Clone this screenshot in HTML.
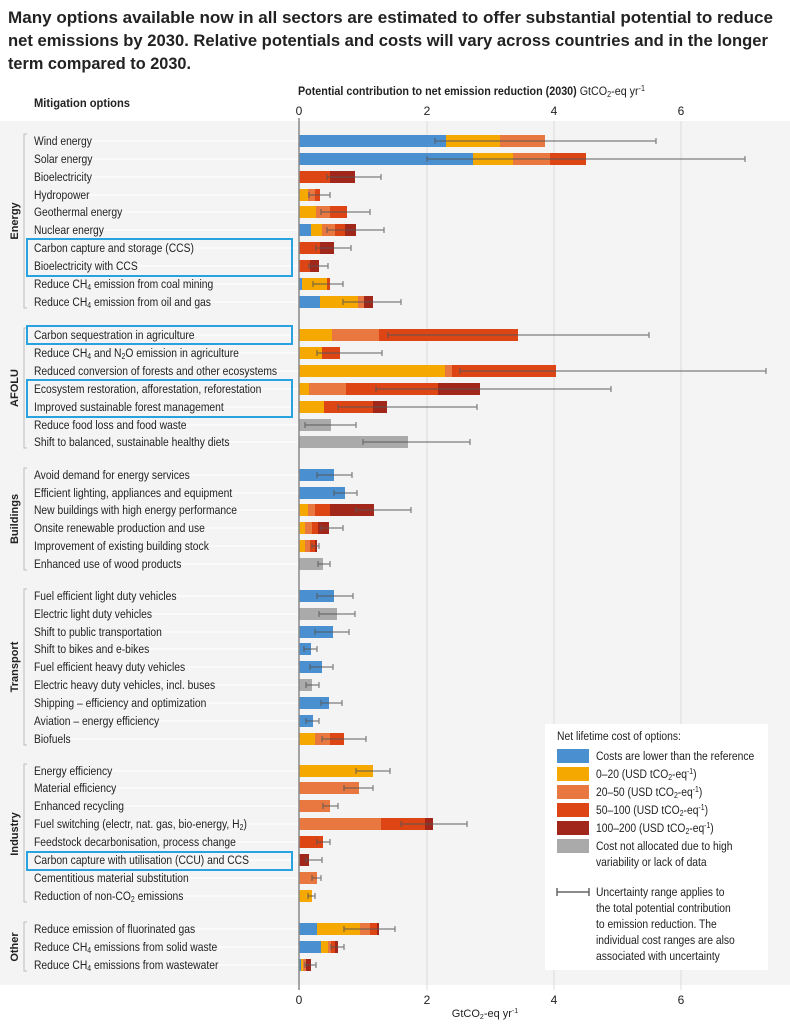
<!DOCTYPE html>
<html><head><meta charset="utf-8"><style>
body{margin:0;background:#fff}
svg{display:block}
.t{font-family:"Liberation Sans",sans-serif;font-size:12px;fill:#222}
.b{font-family:"Liberation Sans",sans-serif;font-weight:bold}
.e{fill:none;stroke:#555;stroke-opacity:0.75;stroke-width:1.2}
.wl{stroke:#fff;stroke-width:1}
</style></head><body>
<svg width="790" height="1024" viewBox="0 0 790 1024" xmlns="http://www.w3.org/2000/svg">
<g class="b" font-size="17" fill="#222">
<text x="8" y="23" textLength="765" lengthAdjust="spacingAndGlyphs">Many options available now in all sectors are estimated to offer substantial potential to reduce</text>
<text x="8" y="46" textLength="760" lengthAdjust="spacingAndGlyphs">net emissions by 2030. Relative potentials and costs will vary across countries and in the longer</text>
<text x="8" y="69" textLength="183" lengthAdjust="spacingAndGlyphs">term compared to 2030.</text>
</g>
<rect x="0" y="121" width="790" height="864" fill="#f4f4f4"/>
<text x="34" y="107" class="t" style="font-weight:bold" font-size="12" textLength="96" lengthAdjust="spacingAndGlyphs">Mitigation options</text>
<text x="298" y="95" class="t" font-size="12" textLength="347" lengthAdjust="spacingAndGlyphs"><tspan font-weight="bold">Potential contribution to net emission reduction (2030) </tspan>GtCO<tspan font-size="8" dy="2">2</tspan><tspan dy="-2">-eq yr</tspan><tspan font-size="8" dy="-4">-1</tspan></text>
<g class="t" text-anchor="middle" font-size="12">
<text x="299" y="115">0</text><text x="427" y="115">2</text><text x="554" y="115">4</text><text x="681" y="115">6</text>
<text x="299" y="1004">0</text><text x="427" y="1004">2</text><text x="554" y="1004">4</text><text x="681" y="1004">6</text>
<text x="485" y="1017" font-size="11">GtCO<tspan font-size="7" dy="2">2</tspan><tspan dy="-2">-eq yr</tspan><tspan font-size="7" dy="-4">-1</tspan></text>
</g>
<g stroke="#dcdcdc" stroke-width="1">
<line x1="427" y1="121" x2="427" y2="990"/><line x1="554" y1="121" x2="554" y2="990"/><line x1="681" y1="121" x2="681" y2="990"/>
</g>
<g class="wl">
<line x1="34" y1="141" x2="299" y2="141"/><line x1="34" y1="159" x2="299" y2="159"/><line x1="34" y1="177" x2="299" y2="177"/><line x1="34" y1="195" x2="299" y2="195"/><line x1="34" y1="212" x2="299" y2="212"/><line x1="34" y1="230" x2="299" y2="230"/><line x1="34" y1="248" x2="299" y2="248"/><line x1="34" y1="266" x2="299" y2="266"/><line x1="34" y1="284" x2="299" y2="284"/><line x1="34" y1="302" x2="299" y2="302"/>
<line x1="34" y1="335" x2="299" y2="335"/><line x1="34" y1="353" x2="299" y2="353"/><line x1="34" y1="371" x2="299" y2="371"/><line x1="34" y1="389" x2="299" y2="389"/><line x1="34" y1="407" x2="299" y2="407"/><line x1="34" y1="425" x2="299" y2="425"/><line x1="34" y1="442" x2="299" y2="442"/>
<line x1="34" y1="475" x2="299" y2="475"/><line x1="34" y1="493" x2="299" y2="493"/><line x1="34" y1="510" x2="299" y2="510"/><line x1="34" y1="528" x2="299" y2="528"/><line x1="34" y1="546" x2="299" y2="546"/><line x1="34" y1="564" x2="299" y2="564"/>
<line x1="34" y1="596" x2="299" y2="596"/><line x1="34" y1="614" x2="299" y2="614"/><line x1="34" y1="632" x2="299" y2="632"/><line x1="34" y1="649" x2="299" y2="649"/><line x1="34" y1="667" x2="299" y2="667"/><line x1="34" y1="685" x2="299" y2="685"/><line x1="34" y1="703" x2="299" y2="703"/><line x1="34" y1="721" x2="299" y2="721"/><line x1="34" y1="739" x2="299" y2="739"/>
<line x1="34" y1="771" x2="299" y2="771"/><line x1="34" y1="788" x2="299" y2="788"/><line x1="34" y1="806" x2="299" y2="806"/><line x1="34" y1="824" x2="299" y2="824"/><line x1="34" y1="842" x2="299" y2="842"/><line x1="34" y1="860" x2="299" y2="860"/><line x1="34" y1="878" x2="299" y2="878"/><line x1="34" y1="896" x2="299" y2="896"/>
<line x1="34" y1="929" x2="299" y2="929"/><line x1="34" y1="947" x2="299" y2="947"/><line x1="34" y1="965" x2="299" y2="965"/>
</g>

<!-- Bars -->
<g>
<!-- Energy -->
<rect x="299" y="135" width="147" height="12" fill="#4a8fd0"/><rect x="446" y="135" width="54" height="12" fill="#f5a800"/><rect x="500" y="135" width="45" height="12" fill="#e87840"/>
<rect x="299" y="153" width="174" height="12" fill="#4a8fd0"/><rect x="473" y="153" width="40" height="12" fill="#f5a800"/><rect x="513" y="153" width="37" height="12" fill="#e87840"/><rect x="550" y="153" width="36" height="12" fill="#dd4515"/>
<rect x="299" y="171" width="31" height="12" fill="#dd4515"/><rect x="330" y="171" width="25" height="12" fill="#a0271a"/>
<rect x="299" y="189" width="9" height="12" fill="#f5a800"/><rect x="308" y="189" width="7" height="12" fill="#e87840"/><rect x="315" y="189" width="5" height="12" fill="#dd4515"/>
<rect x="299" y="206" width="17" height="12" fill="#f5a800"/><rect x="316" y="206" width="14" height="12" fill="#e87840"/><rect x="330" y="206" width="17" height="12" fill="#dd4515"/>
<rect x="299" y="224" width="12" height="12" fill="#4a8fd0"/><rect x="311" y="224" width="11" height="12" fill="#f5a800"/><rect x="322" y="224" width="13" height="12" fill="#e87840"/><rect x="335" y="224" width="10" height="12" fill="#dd4515"/><rect x="345" y="224" width="11" height="12" fill="#a0271a"/>
<rect x="299" y="242" width="21" height="12" fill="#dd4515"/><rect x="320" y="242" width="14" height="12" fill="#a0271a"/>
<rect x="299" y="260" width="11" height="12" fill="#dd4515"/><rect x="310" y="260" width="9" height="12" fill="#a0271a"/>
<rect x="299" y="278" width="3" height="12" fill="#4a8fd0"/><rect x="302" y="278" width="25" height="12" fill="#f5a800"/><rect x="327" y="278" width="3" height="12" fill="#dd4515"/>
<rect x="299" y="296" width="21" height="12" fill="#4a8fd0"/><rect x="320" y="296" width="38" height="12" fill="#f5a800"/><rect x="358" y="296" width="6" height="12" fill="#e87840"/><rect x="364" y="296" width="9" height="12" fill="#a0271a"/>
<!-- AFOLU -->
<rect x="299" y="329" width="33" height="12" fill="#f5a800"/><rect x="332" y="329" width="47" height="12" fill="#e87840"/><rect x="379" y="329" width="139" height="12" fill="#dd4515"/>
<rect x="299" y="347" width="23" height="12" fill="#f5a800"/><rect x="322" y="347" width="18" height="12" fill="#dd4515"/>
<rect x="299" y="365" width="146" height="12" fill="#f5a800"/><rect x="445" y="365" width="7" height="12" fill="#e87840"/><rect x="452" y="365" width="104" height="12" fill="#dd4515"/>
<rect x="299" y="383" width="10" height="12" fill="#f5a800"/><rect x="309" y="383" width="37" height="12" fill="#e87840"/><rect x="346" y="383" width="92" height="12" fill="#dd4515"/><rect x="438" y="383" width="42" height="12" fill="#a0271a"/>
<rect x="299" y="401" width="25" height="12" fill="#f5a800"/><rect x="324" y="401" width="49" height="12" fill="#dd4515"/><rect x="373" y="401" width="14" height="12" fill="#a0271a"/>
<rect x="299" y="419" width="32" height="12" fill="#aaa"/>
<rect x="299" y="436" width="109" height="12" fill="#aaa"/>
<!-- Buildings -->
<rect x="299" y="469" width="35" height="12" fill="#4a8fd0"/>
<rect x="299" y="487" width="46" height="12" fill="#4a8fd0"/>
<rect x="299" y="504" width="9" height="12" fill="#f5a800"/><rect x="308" y="504" width="7" height="12" fill="#e87840"/><rect x="315" y="504" width="15" height="12" fill="#dd4515"/><rect x="330" y="504" width="44" height="12" fill="#a0271a"/>
<rect x="299" y="522" width="6" height="12" fill="#f5a800"/><rect x="305" y="522" width="7" height="12" fill="#e87840"/><rect x="312" y="522" width="6" height="12" fill="#dd4515"/><rect x="318" y="522" width="11" height="12" fill="#a0271a"/>
<rect x="299" y="540" width="6" height="12" fill="#f5a800"/><rect x="305" y="540" width="5" height="12" fill="#e87840"/><rect x="310" y="540" width="5" height="12" fill="#dd4515"/><rect x="315" y="540" width="2" height="12" fill="#a0271a"/>
<rect x="299" y="558" width="24" height="12" fill="#aaa"/>
<!-- Transport -->
<rect x="299" y="590" width="35" height="12" fill="#4a8fd0"/>
<rect x="299" y="608" width="38" height="12" fill="#aaa"/>
<rect x="299" y="626" width="34" height="12" fill="#4a8fd0"/>
<rect x="299" y="643" width="12" height="12" fill="#4a8fd0"/>
<rect x="299" y="661" width="23" height="12" fill="#4a8fd0"/>
<rect x="299" y="679" width="13" height="12" fill="#aaa"/>
<rect x="299" y="697" width="30" height="12" fill="#4a8fd0"/>
<rect x="299" y="715" width="14" height="12" fill="#4a8fd0"/>
<rect x="299" y="733" width="16" height="12" fill="#f5a800"/><rect x="315" y="733" width="15" height="12" fill="#e87840"/><rect x="330" y="733" width="14" height="12" fill="#dd4515"/>
<!-- Industry -->
<rect x="299" y="765" width="74" height="12" fill="#f5a800"/>
<rect x="299" y="782" width="60" height="12" fill="#e87840"/>
<rect x="299" y="800" width="31" height="12" fill="#e87840"/>
<rect x="299" y="818" width="82" height="12" fill="#e87840"/><rect x="381" y="818" width="44" height="12" fill="#dd4515"/><rect x="425" y="818" width="8" height="12" fill="#a0271a"/>
<rect x="299" y="836" width="24" height="12" fill="#dd4515"/>
<rect x="299" y="854" width="10" height="12" fill="#a0271a"/>
<rect x="299" y="872" width="18" height="12" fill="#e87840"/>
<rect x="299" y="890" width="13" height="12" fill="#f5a800"/>
<!-- Other -->
<rect x="299" y="923" width="18" height="12" fill="#4a8fd0"/><rect x="317" y="923" width="43" height="12" fill="#f5a800"/><rect x="360" y="923" width="10" height="12" fill="#e87840"/><rect x="370" y="923" width="7" height="12" fill="#dd4515"/><rect x="377" y="923" width="2" height="12" fill="#a0271a"/>
<rect x="299" y="941" width="22" height="12" fill="#4a8fd0"/><rect x="321" y="941" width="7" height="12" fill="#f5a800"/><rect x="328" y="941" width="3" height="12" fill="#e87840"/><rect x="331" y="941" width="4" height="12" fill="#dd4515"/><rect x="335" y="941" width="3" height="12" fill="#a0271a"/>
<rect x="299" y="959" width="2" height="12" fill="#4a8fd0"/><rect x="301" y="959" width="2" height="12" fill="#f5a800"/><rect x="303" y="959" width="3" height="12" fill="#e87840"/><rect x="306" y="959" width="5" height="12" fill="#a0271a"/>
</g>

<!-- Error bars -->
<g class="e">
<path d="M435 141H656M435 138V144M656 138V144"/>
<path d="M427 159H745M427 156V162M745 156V162"/>
<path d="M327 177H381M327 174V180M381 174V180"/>
<path d="M309 195H330M309 192V198M330 192V198"/>
<path d="M321 212H370M321 209V215M370 209V215"/>
<path d="M327 230H384M327 227V233M384 227V233"/>
<path d="M316 248H351M316 245V251M351 245V251"/>
<path d="M309 266H328M309 263V269M328 263V269"/>
<path d="M313 284H343M313 281V287M343 281V287"/>
<path d="M343 302H401M343 299V305M401 299V305"/>
<path d="M388 335H649M388 332V338M649 332V338"/>
<path d="M317 353H382M317 350V356M382 350V356"/>
<path d="M460 371H766M460 368V374M766 368V374"/>
<path d="M376 389H611M376 386V392M611 386V392"/>
<path d="M338 407H477M338 404V410M477 404V410"/>
<path d="M305 425H356M305 422V428M356 422V428"/>
<path d="M363 442H470M363 439V445M470 439V445"/>
<path d="M317 475H352M317 472V478M352 472V478"/>
<path d="M334 493H357M334 490V496M357 490V496"/>
<path d="M356 510H411M356 507V513M411 507V513"/>
<path d="M321 528H343M321 525V531M343 525V531"/>
<path d="M312 546H319M312 543V549M319 543V549"/>
<path d="M318 564H330M318 561V567M330 561V567"/>
<path d="M317 596H353M317 593V599M353 593V599"/>
<path d="M319 614H355M319 611V617M355 611V617"/>
<path d="M315 632H349M315 629V635M349 629V635"/>
<path d="M304 649H317M304 646V652M317 646V652"/>
<path d="M310 667H333M310 664V670M333 664V670"/>
<path d="M306 685H319M306 682V688M319 682V688"/>
<path d="M321 703H342M321 700V706M342 700V706"/>
<path d="M306 721H319M306 718V724M319 718V724"/>
<path d="M322 739H366M322 736V742M366 736V742"/>
<path d="M356 771H390M356 768V774M390 768V774"/>
<path d="M344 788H373M344 785V791M373 785V791"/>
<path d="M323 806H338M323 803V809M338 803V809"/>
<path d="M401 824H467M401 821V827M467 821V827"/>
<path d="M317 842H330M317 839V845M330 839V845"/>
<path d="M306 860H322M306 857V863M322 857V863"/>
<path d="M312 878H321M312 875V881M321 875V881"/>
<path d="M308 896H315M308 893V899M315 893V899"/>
<path d="M344 929H395M344 926V932M395 926V932"/>
<path d="M331 947H344M331 944V950M344 944V950"/>
<path d="M305 965H316M305 962V968M316 962V968"/>
</g>

<line x1="299" y1="118" x2="299" y2="990" stroke="#888" stroke-width="1.5"/>

<g class="t" transform="scale(0.86,1)">
<text x="39.5" y="145">Wind energy</text>
<text x="39.5" y="163">Solar energy</text>
<text x="39.5" y="181">Bioelectricity</text>
<text x="39.5" y="199">Hydropower</text>
<text x="39.5" y="216">Geothermal energy</text>
<text x="39.5" y="234">Nuclear energy</text>
<text x="39.5" y="252">Carbon capture and storage (CCS)</text>
<text x="39.5" y="270">Bioelectricity with CCS</text>
<text x="39.5" y="288">Reduce CH<tspan font-size="8" dy="2">4</tspan><tspan dy="-2"> emission from coal mining</tspan></text>
<text x="39.5" y="306">Reduce CH<tspan font-size="8" dy="2">4</tspan><tspan dy="-2"> emission from oil and gas</tspan></text>
<text x="39.5" y="339">Carbon sequestration in agriculture</text>
<text x="39.5" y="357">Reduce CH<tspan font-size="8" dy="2">4</tspan><tspan dy="-2"> and N</tspan><tspan font-size="8" dy="2">2</tspan><tspan dy="-2">O emission in agriculture</tspan></text>
<text x="39.5" y="375">Reduced conversion of forests and other ecosystems</text>
<text x="39.5" y="393">Ecosystem restoration, afforestation, reforestation</text>
<text x="39.5" y="411">Improved sustainable forest management</text>
<text x="39.5" y="429">Reduce food loss and food waste</text>
<text x="39.5" y="446">Shift to balanced, sustainable healthy diets</text>
<text x="39.5" y="479">Avoid demand for energy services</text>
<text x="39.5" y="497">Efficient lighting, appliances and equipment</text>
<text x="39.5" y="514">New buildings with high energy performance</text>
<text x="39.5" y="532">Onsite renewable production and use</text>
<text x="39.5" y="550">Improvement of existing building stock</text>
<text x="39.5" y="568">Enhanced use of wood products</text>
<text x="39.5" y="600">Fuel efficient light duty vehicles</text>
<text x="39.5" y="618">Electric light duty vehicles</text>
<text x="39.5" y="636">Shift to public transportation</text>
<text x="39.5" y="653">Shift to bikes and e-bikes</text>
<text x="39.5" y="671">Fuel efficient heavy duty vehicles</text>
<text x="39.5" y="689">Electric heavy duty vehicles, incl. buses</text>
<text x="39.5" y="707">Shipping – efficiency and optimization</text>
<text x="39.5" y="725">Aviation – energy efficiency</text>
<text x="39.5" y="743">Biofuels</text>
<text x="39.5" y="775">Energy efficiency</text>
<text x="39.5" y="792">Material efficiency</text>
<text x="39.5" y="810">Enhanced recycling</text>
<text x="39.5" y="828">Fuel switching (electr, nat. gas, bio-energy, H<tspan font-size="8" dy="2">2</tspan><tspan dy="-2">)</tspan></text>
<text x="39.5" y="846">Feedstock decarbonisation, process change</text>
<text x="39.5" y="864">Carbon capture with utilisation (CCU) and CCS</text>
<text x="39.5" y="882">Cementitious material substitution</text>
<text x="39.5" y="900">Reduction of non-CO<tspan font-size="8" dy="2">2</tspan><tspan dy="-2"> emissions</tspan></text>
<text x="39.5" y="933">Reduce emission of fluorinated gas</text>
<text x="39.5" y="951">Reduce CH<tspan font-size="8" dy="2">4</tspan><tspan dy="-2"> emissions from solid waste</tspan></text>
<text x="39.5" y="969">Reduce CH<tspan font-size="8" dy="2">4</tspan><tspan dy="-2"> emissions from wastewater</tspan></text>
</g>

<g fill="none" stroke="#bbb" stroke-width="1">
<path d="M27 134 H24 V308 H27"/><path d="M27 328 H24 V448 H27"/><path d="M27 468 H24 V570 H27"/>
<path d="M27 589 H24 V745 H27"/><path d="M27 764 H24 V902 H27"/><path d="M27 922 H24 V971 H27"/>
</g>
<g class="b" font-size="11" fill="#222" text-anchor="middle">
<text transform="translate(18,221) rotate(-90)">Energy</text>
<text transform="translate(18,388) rotate(-90)">AFOLU</text>
<text transform="translate(18,519) rotate(-90)">Buildings</text>
<text transform="translate(18,667) rotate(-90)">Transport</text>
<text transform="translate(18,834) rotate(-90)">Industry</text>
<text transform="translate(18,947) rotate(-90)">Other</text>
</g>
<g fill="none" stroke="#29a3e0" stroke-width="2">
<rect x="27" y="239" width="265" height="37"/>
<rect x="27" y="326" width="265" height="18"/>
<rect x="27" y="380" width="265" height="37"/>
<rect x="27" y="852" width="265" height="18"/>
</g>
<rect x="545" y="724" width="223" height="246" fill="#fff"/>
<rect x="557" y="749" width="32" height="14" fill="#4a8fd0"/>
<rect x="557" y="767" width="32" height="14" fill="#f5a800"/>
<rect x="557" y="785" width="32" height="14" fill="#e87840"/>
<rect x="557" y="803" width="32" height="14" fill="#dd4515"/>
<rect x="557" y="821" width="32" height="14" fill="#a0271a"/>
<rect x="557" y="839" width="32" height="14" fill="#aaa"/>
<path d="M557 892H589M557 888V896M589 888V896" fill="none" stroke="#666" stroke-width="1.5"/>
<g class="t" font-size="12" transform="scale(0.86,1)">
<text x="647.7" y="740">Net lifetime cost of options:</text>
<text x="693" y="760">Costs are lower than the reference</text>
<text x="693" y="778">0–20 (USD tCO<tspan font-size="8" dy="2">2</tspan><tspan dy="-2">-eq</tspan><tspan font-size="8" dy="-4">-1</tspan><tspan dy="4">)</tspan></text>
<text x="693" y="796">20–50 (USD tCO<tspan font-size="8" dy="2">2</tspan><tspan dy="-2">-eq</tspan><tspan font-size="8" dy="-4">-1</tspan><tspan dy="4">)</tspan></text>
<text x="693" y="814">50–100 (USD tCO<tspan font-size="8" dy="2">2</tspan><tspan dy="-2">-eq</tspan><tspan font-size="8" dy="-4">-1</tspan><tspan dy="4">)</tspan></text>
<text x="693" y="832">100–200 (USD tCO<tspan font-size="8" dy="2">2</tspan><tspan dy="-2">-eq</tspan><tspan font-size="8" dy="-4">-1</tspan><tspan dy="4">)</tspan></text>
<text x="693" y="850">Cost not allocated due to high</text>
<text x="693" y="866">variability or lack of data</text>
<text x="693" y="896">Uncertainty range applies to</text>
<text x="693" y="912">the total potential contribution</text>
<text x="693" y="928">to emission reduction. The</text>
<text x="693" y="944">individual cost ranges are also</text>
<text x="693" y="960">associated with uncertainty</text>
</g>
</svg>
</body></html>
